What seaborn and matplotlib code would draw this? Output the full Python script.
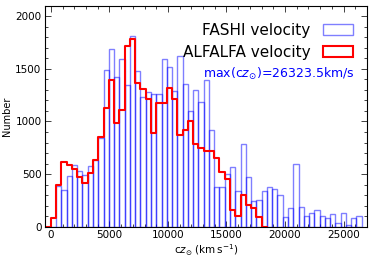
import numpy as np
import pandas as pd
import matplotlib
matplotlib.use("Agg")
import matplotlib.pyplot as plt
import seaborn as sns
from matplotlib.patches import Patch
from matplotlib.ticker import MultipleLocator

# ---- data ----
bin_width = 450.0
fashi_counts = [0, 389, 348, 483, 585, 531, 490, 575, 632, 847,
                1485, 1690, 1422, 1596, 1350, 1815, 1476, 1235, 1280, 1262,
                1262, 1596, 1517, 1288, 1621, 1359, 1100, 1300, 1188, 1397,
                916, 377, 373, 500, 572, 338, 790, 468, 243, 253,
                338, 373, 354, 302, 95, 174, 600, 183, 105, 126,
                158, 101, 87, 118, 32, 126, 16, 79, 101]
alfalfa_counts = [85, 395, 616, 591, 553, 474, 417, 506, 638, 853,
                  1131, 1390, 986, 1106, 1716, 1779, 1365, 1311, 1210, 891,
                  1175, 1180, 1315, 1216, 869, 916, 1005, 790, 752, 720,
                  720, 657, 521, 449, 158, 101, 300, 205, 174, 95]
fashi_max = 26323.5
legend_labels = ["FASHI velocity", "ALFALFA velocity"]

# bins
fashi_edges = [float(i) * bin_width for i in range(len(fashi_counts) + 1)]
fashi_centers = [(a + b) / 2 for a, b in zip(fashi_edges[:-1], fashi_edges[1:])]
# ALFALFA: pad one empty bin on each side so the step outline closes to zero
alf_w = [0] + list(alfalfa_counts) + [0]
alf_edges = [float(i - 1) * bin_width for i in range(len(alf_w) + 1)]
alf_centers = [(a + b) / 2 for a, b in zip(alf_edges[:-1], alf_edges[1:])]

df_f = pd.DataFrame({"v": fashi_centers, "n": fashi_counts})
df_a = pd.DataFrame({"v": alf_centers, "n": alf_w})

sns.set_style("ticks", {"text.color": "black", "axes.labelcolor": "black",
                        "xtick.color": "black", "ytick.color": "black",
                        "axes.edgecolor": "black"})
plt.rcParams["font.family"] = ["DejaVu Sans"]

fig = plt.figure(figsize=(3.74, 2.60), dpi=100)
ax = fig.add_axes([45 / 374, 1 - 226.7 / 260, 322 / 374, 221 / 260])

sns.histplot(data=df_f, x="v", weights="n", bins=fashi_edges, element="bars",
             fill=False, color="blue", alpha=0.5, linewidth=1.0, ax=ax)
sns.histplot(data=df_a, x="v", weights="n", bins=alf_edges, element="step",
             fill=False, color="red", linewidth=1.5, ax=ax)

ax.set_xlim(-500, 27000)
ax.set_ylim(0, 2100)
ax.xaxis.set_major_locator(MultipleLocator(5000))
ax.xaxis.set_minor_locator(MultipleLocator(1000))
ax.yaxis.set_major_locator(MultipleLocator(500))
ax.yaxis.set_minor_locator(MultipleLocator(100))
ax.tick_params(which="both", direction="in", top=True, right=True, labelsize=7.5,
               width=0.6, color="#222222", labelcolor="black", pad=2.5)
ax.tick_params(which="major", length=4)
ax.tick_params(which="minor", length=2)
for s in ax.spines.values():
    s.set_linewidth(0.8)
    s.set_color("black")

ax.set_xlabel(r"c$z_{\odot}$ (km$\,$s$^{-1}$)", fontsize=7.5, labelpad=2, color="black")
ax.set_ylabel("Number", fontsize=7, labelpad=2, color="black")

handles = [Patch(facecolor="none", edgecolor="blue", alpha=0.5, linewidth=1.0),
           Patch(facecolor="none", edgecolor="red", linewidth=1.5)]
leg = ax.legend(handles, legend_labels, loc="upper right", frameon=False,
                markerfirst=False, fontsize=11, handlelength=2.0, handleheight=0.7,
                handletextpad=0.8, labelspacing=0.45,
                bbox_to_anchor=(1.0, 0.985), borderaxespad=0.5)
for t in leg.get_texts():
    t.set_color("black")

ax.text(0.963, 0.69, r"max(c$z_{\odot}$)=%.1fkm/s" % fashi_max, transform=ax.transAxes,
        ha="right", va="center", fontsize=9, color="blue")

fig.savefig("out.png", dpi=100)
